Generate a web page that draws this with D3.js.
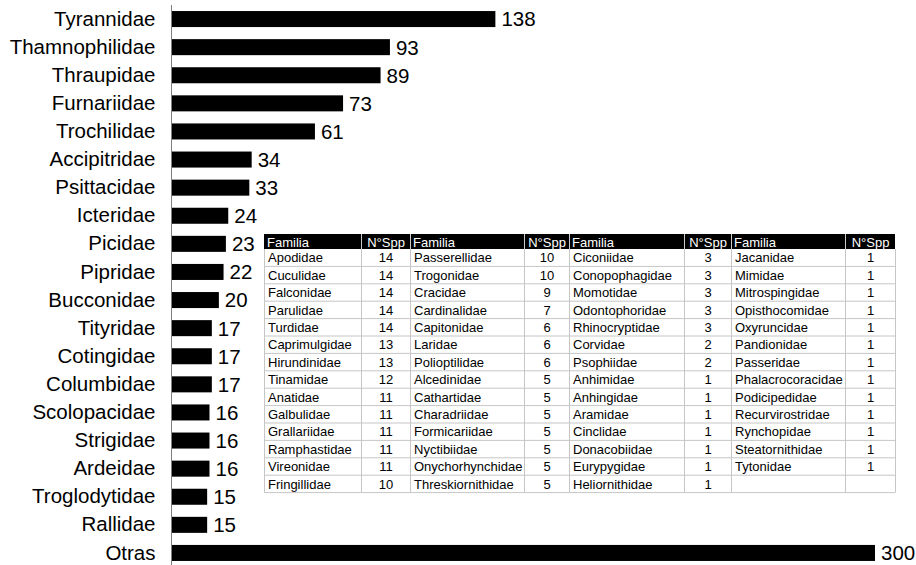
<!DOCTYPE html>
<html>
<head>
<meta charset="utf-8">
<script src="https://cdn.jsdelivr.net/npm/d3@7"></script>
<style>
  body { margin: 0; background: #fff; }
  svg { display: block; }
  svg text { font-family: "Liberation Sans", Arial, Helvetica, sans-serif; }
</style>
</head>
<body>
<div id="chart"></div>
<script>
// familias principales
const familias = ["Tyrannidae", "Thamnophilidae", "Thraupidae", "Furnariidae", "Trochilidae",
  "Accipitridae", "Psittacidae", "Icteridae", "Picidae", "Pipridae", "Bucconidae", "Tityridae",
  "Cotingidae", "Columbidae", "Scolopacidae", "Strigidae", "Ardeidae", "Troglodytidae", "Rallidae", "Otras"];
const especies = [138, 93, 89, 73, 61, 34, 33, 24, 23, 22, 20, 17, 17, 17, 16, 16, 16, 15, 15, 300];

// tabla de otras familias
const tablaFam1 = ["Apodidae", "Cuculidae", "Falconidae", "Parulidae", "Turdidae", "Caprimulgidae", "Hirundinidae",
  "Tinamidae", "Anatidae", "Galbulidae", "Grallariidae", "Ramphastidae", "Vireonidae", "Fringillidae"];
const tablaSpp1 = [14, 14, 14, 14, 14, 13, 13, 12, 11, 11, 11, 11, 11, 10];
const tablaFam2 = ["Passerellidae", "Trogonidae", "Cracidae", "Cardinalidae", "Capitonidae", "Laridae", "Polioptilidae",
  "Alcedinidae", "Cathartidae", "Charadriidae", "Formicariidae", "Nyctibiidae", "Onychorhynchidae", "Threskiornithidae"];
const tablaSpp2 = [10, 10, 9, 7, 6, 6, 6, 5, 5, 5, 5, 5, 5, 5];
const tablaFam3 = ["Ciconiidae", "Conopophagidae", "Momotidae", "Odontophoridae", "Rhinocryptidae", "Corvidae", "Psophiidae",
  "Anhimidae", "Anhingidae", "Aramidae", "Cinclidae", "Donacobiidae", "Eurypygidae", "Heliornithidae"];
const tablaSpp3 = [3, 3, 3, 3, 3, 2, 2, 1, 1, 1, 1, 1, 1, 1];
const tablaFam4 = ["Jacanidae", "Mimidae", "Mitrospingidae", "Opisthocomidae", "Oxyruncidae", "Pandionidae", "Passeridae",
  "Phalacrocoracidae", "Podicipedidae", "Recurvirostridae", "Rynchopidae", "Steatornithidae", "Tytonidae", ""];
const tablaSpp4 = [1, 1, 1, 1, 1, 1, 1, 1, 1, 1, 1, 1, 1, null];

const width = 916, height = 565;

const svg = d3.select("#chart").append("svg")
  .attr("width", width)
  .attr("height", height);

const x = d3.scaleLinear().domain([0, 300]).range([172, 875]);
const y = d3.scaleBand().domain(familias).range([5, 567])
  .paddingInner(0.43).paddingOuter(0.215);

// barras
svg.append("g")
  .selectAll("rect")
  .data(familias)
  .join("rect")
  .attr("x", x(0))
  .attr("y", d => y(d))
  .attr("width", (d, i) => x(especies[i]) - x(0))
  .attr("height", y.bandwidth())
  .attr("fill", "#000");

// etiquetas de valores
svg.append("g")
  .selectAll("text")
  .data(familias)
  .join("text")
  .attr("x", (d, i) => x(especies[i]) + 6)
  .attr("y", d => y(d) + y.bandwidth() / 2)
  .attr("dy", "0.36em")
  .attr("font-size", 20.5)
  .text((d, i) => especies[i]);

// eje vertical
const axis = svg.append("g")
  .attr("transform", "translate(171.5,0)")
  .call(d3.axisLeft(y).tickSize(0).tickPadding(16));
axis.attr("font-family", null);
axis.select(".domain").attr("stroke", "#808080").attr("d", "M0,5V565");
axis.selectAll("text").attr("font-size", 20.5).attr("fill", "#000");

// tabla
const colX = [264, 361, 410, 524, 569, 684, 731, 845, 895];
const tTop = 234, headH = 15, rowH = 17.4, nRows = 14;
const grupos = [[tablaFam1, tablaSpp1], [tablaFam2, tablaSpp2], [tablaFam3, tablaSpp3], [tablaFam4, tablaSpp4]];
const tabla = svg.append("g");
const tBody = tTop + headH;

tabla.append("rect")
  .attr("x", colX[0]).attr("y", tTop)
  .attr("width", colX[8] - colX[0]).attr("height", headH)
  .attr("fill", "#000");

// lineas de la tabla
const lineColor = "#c6c6c6";
d3.range(1, nRows + 1).forEach(r => {
  tabla.append("line")
    .attr("x1", colX[0]).attr("x2", colX[8])
    .attr("y1", tBody + r * rowH).attr("y2", tBody + r * rowH)
    .attr("stroke", lineColor);
});
colX.forEach(cx => {
  tabla.append("line")
    .attr("x1", cx + 0.5).attr("x2", cx + 0.5)
    .attr("y1", tBody).attr("y2", tBody + nRows * rowH)
    .attr("stroke", lineColor);
});
colX.slice(1, 8).forEach(cx => {
  tabla.append("line")
    .attr("x1", cx + 0.5).attr("x2", cx + 0.5)
    .attr("y1", tTop).attr("y2", tBody)
    .attr("stroke", "#fff").attr("stroke-width", 0.8);
});

grupos.forEach(([fams, spp], g) => {
  const x0 = colX[g * 2], x1 = colX[g * 2 + 1], x2 = colX[g * 2 + 2];
  tabla.append("text")
    .attr("x", x0 + 3).attr("y", tTop + headH / 2 + 0.5).attr("dy", "0.36em")
    .attr("font-size", 13).attr("fill", "#fff").text("Familia");
  tabla.append("text")
    .attr("x", (x1 + x2) / 2 + 0.5).attr("y", tTop + headH / 2 + 0.5).attr("dy", "0.36em")
    .attr("text-anchor", "middle")
    .attr("font-size", 13).attr("fill", "#fff").text("N°Spp");
  fams.forEach((f, i) => {
    const cy = tBody + i * rowH + rowH / 2;
    tabla.append("text")
      .attr("x", x0 + 4).attr("y", cy).attr("dy", "0.36em")
      .attr("font-size", 13).text(f);
    if (spp[i] != null) {
      tabla.append("text")
        .attr("x", (x1 + x2) / 2 + 0.5).attr("y", cy).attr("dy", "0.36em")
        .attr("text-anchor", "middle")
        .attr("font-size", 13).text(spp[i]);
    }
  });
});
</script>
</body>
</html>
